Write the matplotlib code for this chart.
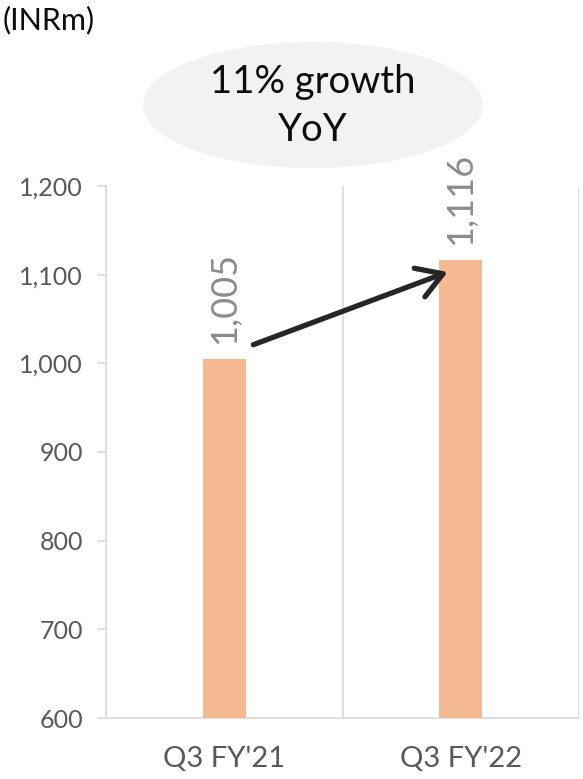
import matplotlib
matplotlib.use("Agg")
import matplotlib.pyplot as plt
from matplotlib.patches import Ellipse

plt.rcParams['font.family'] = ['Lato', 'DejaVu Sans']

categories = ["Q3 FY'21", "Q3 FY'22"]
values = [1005, 1116]
yticks = [600, 700, 800, 900, 1000, 1100, 1200]
unit_label = "(INRm)"
callout = "11% growth\nYoY"

W, H = 583, 779
fig = plt.figure(figsize=(W / 100, H / 100), dpi=100)
ax = fig.add_axes([106 / W, (H - 718) / H, (579 - 106) / W, (718 - 186) / H])

x = list(range(len(categories)))
ax.bar(x, values, width=0.18, color='#f4b990', zorder=3)
ax.set_xlim(-0.5, len(categories) - 0.5)
ax.set_ylim(yticks[0], yticks[-1])
ax.set_yticks(yticks)
ax.set_yticklabels([f"{v:,}" for v in yticks])
ax.set_xticks(x)
ax.set_xticklabels(categories)

grid_c = '#d9d9d9'
for b in [i - 0.5 for i in range(len(categories) + 1)]:
    ax.axvline(b, color=grid_c, lw=1.2, zorder=1)
for s in ['top', 'right']:
    ax.spines[s].set_visible(False)
for s in ['left', 'bottom']:
    ax.spines[s].set_color(grid_c)
    ax.spines[s].set_linewidth(1.2)

ax.tick_params(axis='y', length=6.5, width=1.2, color=grid_c, pad=10,
               labelsize=18, labelcolor='#595959')
ax.tick_params(axis='x', length=0, pad=20, labelsize=21, labelcolor='#595959')

for xi, v in zip(x, values):
    ax.annotate(f"{v:,}", (xi, v), xytext=(0, 11), textcoords='offset points',
                rotation=90, ha='center', va='bottom', fontsize=26, color='#8c8c8c')

# growth arrow between bar tops
ax.annotate('', xy=(0.945, values[1] - 13), xytext=(0.123, values[0] + 16),
            arrowprops=dict(arrowstyle='->,head_length=0.9,head_width=0.55',
                            color='#262626', lw=3.8, mutation_scale=20,
                            capstyle='round', joinstyle='round',
                            shrinkA=0, shrinkB=0), zorder=5)

ell = Ellipse((313 / W, 1 - 105 / H), 340 / W, 126 / H, transform=fig.transFigure,
              facecolor='#f2f2f2', edgecolor='none')
fig.add_artist(ell)
fig.text(313 / W, 1 - 106 / H, callout, ha='center', va='center', fontsize=27.5,
         color='#0d0d0d', linespacing=1.4)

fig.text(3 / W, 1 - 20 / H, unit_label, ha='left', va='center', fontsize=22, color='#0d0d0d')

fig.savefig('out.png', dpi=100)
